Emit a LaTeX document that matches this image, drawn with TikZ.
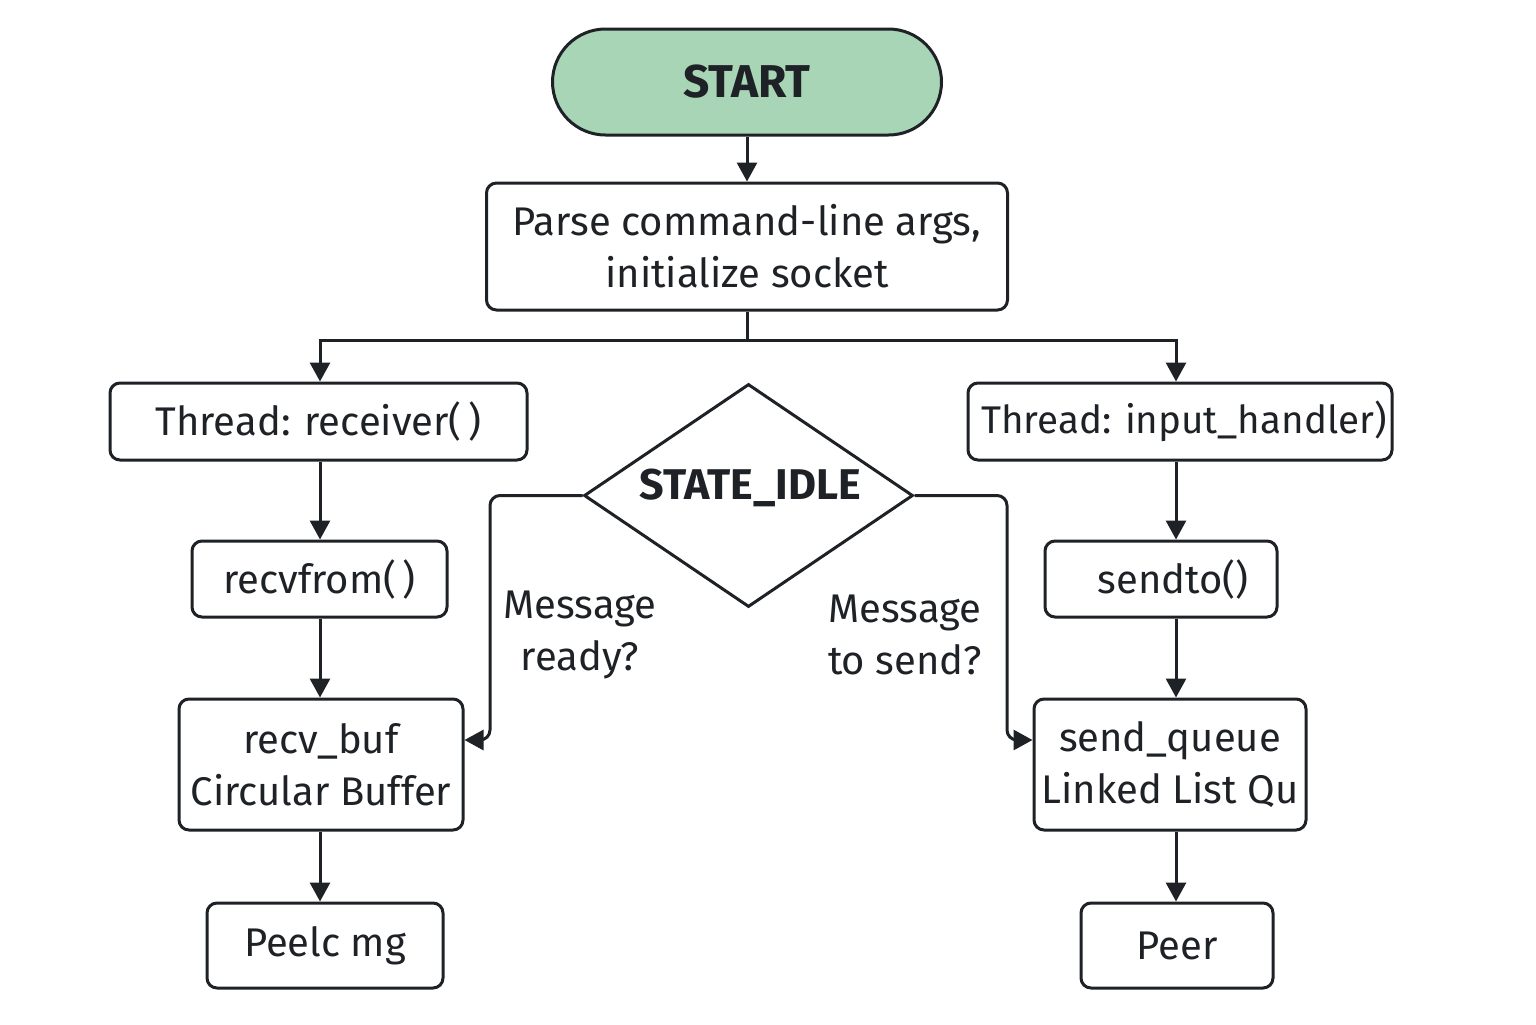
\documentclass[tikz,border=0pt]{standalone}
\usepackage{fontspec}
\setmainfont{Fira Sans}
\usetikzlibrary{arrows.meta,shapes.geometric}
\definecolor{ink}{HTML}{1E2226}
\definecolor{startg}{HTML}{A8D5B5}
\begin{document}
\begin{tikzpicture}[x=0.5pt,y=-0.5pt,
  box/.style={draw=ink, line width=1.5pt, rounded corners=5pt, fill=white, inner sep=0pt,
    font=\fontsize{20}{26}\selectfont, text=ink, align=center},
  arr/.style={draw=ink, line width=1.5pt, -{Triangle[length=9.5pt,width=10pt]}},
  ln/.style={draw=ink, line width=1.5pt},
  lbl/.style={font=\fontsize{20}{26}\selectfont, text=ink, align=center, inner sep=0pt}]
\useasboundingbox (0,0) rectangle (1536,1024);
\fill[white] (0,0) rectangle (1536,1024);

\node[box, fill=startg, rounded corners=26.5pt, minimum width=194.5pt, minimum height=53pt,
  font=\bfseries\fontsize{23}{26}\selectfont] (start) at (747,82) {START};
\node[box, minimum width=260.5pt, minimum height=63.5pt] (parse) at (747,246.5)
  {Parse command-line args,\\initialize socket};
\node[box, minimum width=208.5pt, minimum height=38.5pt] (recv) at (318.5,421.5) {Thread: receiver(\,)};
\node[box, minimum width=212pt, minimum height=38.5pt, font=\fontsize{19.3}{26}\selectfont] (inh) at (1180,421.5) {\hspace*{4pt}Thread: input\_handler)};
\node[box, minimum width=127.5pt, minimum height=38pt] (recvfrom) at (319.5,579) {recvfrom(\,)};
\node[box, minimum width=142pt, minimum height=65.5pt] (recvbuf) at (321,764.5) {recv\_buf\\Circular Buffer};
\node[box, minimum width=118pt, minimum height=42.5pt] (peelc) at (325,945.5) {Peelc mg};
\node[box, minimum width=116pt, minimum height=38pt] (sendto) at (1161,579) {\hspace*{12pt}sendto()};
\node[box, minimum width=136pt, minimum height=65.5pt] (sendq) at (1170,764.5) {send\_queue\\Linked List Qu};
\node[box, minimum width=96pt, minimum height=42.5pt] (peer) at (1177,945.5) {Peer};

\node[draw=ink, line width=1.5pt, diamond, aspect=1.475, inner sep=0pt, fill=white,
  minimum width=164.5pt, minimum height=111.5pt] (idle) at (748.5,495.5) {};
\node[lbl, font=\bfseries\fontsize{21.5}{24}\selectfont] (idletxt) at (750,488) {STATE\_IDLE};

\node[lbl] (mr) at (580,635) {Message\\ready?};
\node[lbl] (ms) at (905,635) {Message\\to send?};

\coordinate (lc) at (320,0);
\coordinate (rc) at (1176,0);
\coordinate (split) at (747,340);
\coordinate (lbend) at (490,740);
\coordinate (rbend) at (1007,740);

\draw[arr] (start) -- (parse);
\draw[ln] (parse.south) -- (split);
\draw[arr] (split) -| (lc |- recv.north);
\draw[arr] (split) -| (rc |- inh.north);

\draw[arr] (lc |- recv.south) -- (lc |- recvfrom.north);
\draw[arr] (lc |- recvfrom.south) -- (lc |- recvbuf.north);
\draw[arr] (lc |- recvbuf.south) -- (lc |- peelc.north);

\draw[arr] (rc |- inh.south) -- (rc |- sendto.north);
\draw[arr] (rc |- sendto.south) -- (rc |- sendq.north);
\draw[arr] (rc |- sendq.south) -- (rc |- peer.north);

\draw[arr, rounded corners=5pt] (idle.west) -| (lbend) -- (recvbuf.east |- lbend);
\draw[arr, rounded corners=5pt] (idle.east) -| (rbend) -- (sendq.west |- rbend);
\end{tikzpicture}
\end{document}
